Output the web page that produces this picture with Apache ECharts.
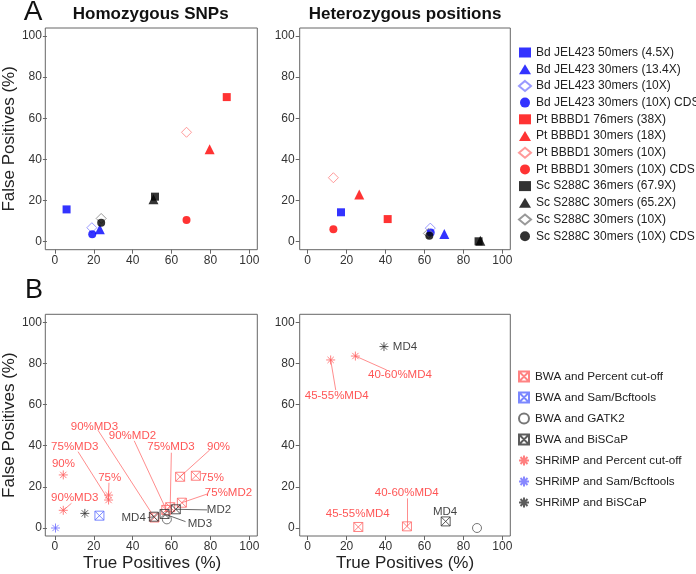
<!DOCTYPE html>
<html>
<head>
<meta charset="utf-8">
<script src="https://cdn.jsdelivr.net/npm/echarts@6/dist/echarts.min.js"></script>
<style>
  html, body { margin: 0; padding: 0; background: #fff; }
  #main { width: 696px; height: 574px; }
</style>
</head>
<body>
<div id="main"></div>
<script>
// ---- panel A data (true positives / false positives, %) ----
const aNames = [
  'Bd JEL423 50mers (4.5X)', 'Bd JEL423 30mers (13.4X)', 'Bd JEL423 30mers (10X)', 'Bd JEL423 30mers (10X) CDS',
  'Pt BBBD1 76mers (38X)', 'Pt BBBD1 30mers (18X)', 'Pt BBBD1 30mers (10X)', 'Pt BBBD1 30mers (10X) CDS',
  'Sc S288C 36mers (67.9X)', 'Sc S288C 30mers (65.2X)', 'Sc S288C 30mers (10X)', 'Sc S288C 30mers (10X) CDS'
];
const homTP = [6.0, 23.1, 19.0, 19.2, 88.4, 79.6, 67.7, 67.7, 51.5, 50.7, 23.8, 23.8];
const homFP = [15.7, 6.0, 6.8, 3.6, 70.3, 44.9, 53.2, 10.5, 21.9, 20.6, 11.3, 9.2];
const hetTP = [17.1, 70.2, 63.0, 63.2, 41.1, 26.5, 13.2, 13.2, 87.8, 88.7, 62.0, 62.5];
const hetFP = [14.3, 3.7, 6.6, 4.5, 11.0, 23.0, 31.1, 6.0, 0.2, 0.5, 4.0, 2.9];

// ---- panel B data ----
const bNames = [
  'BWA and Percent cut-off', 'BWA and Sam/Bcftools', 'BWA and GATK2', 'BWA and BiSCaP',
  'SHRiMP and Percent cut-off', 'SHRiMP and Sam/Bcftools', 'SHRiMP and BiSCaP'
];
// left panel
const bwaPctL_lab = ['90%', '75%', '75%MD2', '75%MD3', '90%MD2', '90%MD3'];
const bwaPctL_tp = [64.4, 72.5, 65.3, 59.3, 57.3, 51.2];
const bwaPctL_fp = [24.9, 25.4, 12.3, 10.1, 8.8, 5.1];
const bwaSamL_tp = [22.9];
const bwaSamL_fp = [6.0];
const gatkL_tp = [57.6];
const gatkL_fp = [4.2];
const bisL_lab = ['MD4', 'MD3', 'MD2'];
const bisL_tp = [50.9, 56.4, 62.2];
const bisL_fp = [5.5, 6.8, 9.1];
const shrPctL_lab = ['90%', '75%', '75%MD3', '90%MD3'];
const shrPctL_tp = [4.3, 27.6, 27.6, 4.3];
const shrPctL_fp = [25.8, 16.0, 13.6, 8.6];
const shrSamL_tp = [0.3];
const shrSamL_fp = [0.0];
const shrBisL_tp = [15.4];
const shrBisL_fp = [7.1];
// right panel
const bwaPctR_lab = ['45-55%MD4', '40-60%MD4'];
const bwaPctR_tp = [26.0, 51.0];
const bwaPctR_fp = [0.5, 0.8];
const gatkR_tp = [87.0];
const gatkR_fp = [0.0];
const bisR_lab = ['MD4'];
const bisR_tp = [70.9];
const bisR_fp = [3.2];
const shrPctR_lab = ['40-60%MD4', '45-55%MD4'];
const shrPctR_tp = [24.5, 11.8];
const shrPctR_fp = [83.6, 81.7];
const shrBisR_lab = ['MD4'];
const shrBisR_tp = [39.2];
const shrBisR_fp = [88.2];

// annotation anchors (axis units) and leader line ends (null = no line)
const bwaPctL_lx = [84.2, 81.0, 89.3, 59.7, 39.9, 20.3];
const bwaPctL_ly = [39.5, 24.6, 17.2, 39.5, 44.7, 49.2];
const bwaPctL_ex = [79.6, null, 78.3, 59.9, 40.8, 22.1];
const bwaPctL_ey = [37.9, null, 16.5, 36.6, 42.4, 47.6];
const bisL_lx = [40.5, 74.6, 84.4];
const bisL_ly = [5.0, 1.8, 8.8];
const bisL_ex = [47.7, 67.2, 78.3];
const bisL_ey = [5.0, 3.1, 8.8];
const shrPctL_lx = [4.4, 28.2, 10.2, 10.2];
const shrPctL_ly = [31.4, 24.5, 39.5, 14.9];
const shrPctL_ex = [null, 27.8, 11.9, 8.5];
const shrPctL_ey = [null, 22.0, 37.1, 12.0];
const bwaPctR_lx = [25.7, 50.9];
const bwaPctR_ly = [6.8, 16.9];
const bwaPctR_ex = [null, 51.0];
const bwaPctR_ey = [null, 14.4];
const bisR_lx = [70.6];
const bisR_ly = [7.9];
const shrPctR_lx = [47.4, 14.9];
const shrPctR_ly = [74.4, 64.3];
const shrPctR_ex = [40.6, 14.4];
const shrPctR_ey = [76.8, 67.1];
const shrBisR_lx = [50.0];
const shrBisR_ly = [88.2];

const FONT = '"Liberation Sans", Arial, sans-serif';
const RED_TXT = '#ff2a2a';
const RED_LINE = '#ff7070';

const boxX = 'path://M0,0L10,0L10,10L0,10Z M0,0L10,10 M10,0L0,10';
const star = 'path://M5,0L5,10 M0,5L10,5 M1.5,1.5L8.5,8.5 M8.5,1.5L1.5,8.5';

const aShapes = ['rect', 'triangle', 'diamond', 'circle'];
const aSizes = [8, 10, 10, 8];
const aColors = ['#0000ff', '#0000ff', '#8080ff', '#0000ff',
                 '#ff0000', '#ff0000', '#ff8080', '#ff0000',
                 '#000000', '#000000', '#808080', '#000000'];

const bShapes = [boxX, boxX, 'circle', boxX, star, star, star];
const bColors = ['#ff6464', '#5a6aff', '#555555', '#333333', '#ff6060', '#6a6aff', '#333333'];

const grids = [
  {left: 53.3, top: 36, width: 196, height: 205.7},
  {left: 307.7, top: 36, width: 194.6, height: 205.7},
  {left: 53.3, top: 322.3, width: 196, height: 205.7},
  {left: 307.7, top: 322.3, width: 194.6, height: 205.7}
];

const chart = echarts.init(document.getElementById('main'), null, {renderer: 'canvas'});

function axisX(i, name) {
  return {
    gridIndex: i, type: 'value', min: 0, max: 100, interval: 20, offset: 8,
    name: name || '', nameLocation: 'middle', nameGap: 19,
    nameTextStyle: {fontSize: 17, color: '#222', fontFamily: FONT},
    axisLine: {show: false, onZero: false},
    axisTick: {show: true, length: 4, lineStyle: {color: '#666'}},
    axisLabel: {fontSize: 12, color: '#333', margin: 5, fontFamily: FONT},
    splitLine: {show: false}
  };
}
function axisY(i, name) {
  return {
    gridIndex: i, type: 'value', min: 0, max: 100, interval: 20, offset: 8,
    name: name || '', nameLocation: 'middle', nameGap: 22, nameRotate: 90,
    nameTextStyle: {fontSize: 17, color: '#222', fontFamily: FONT},
    axisLine: {show: false, onZero: false},
    axisTick: {show: true, length: 4, lineStyle: {color: '#666'}},
    axisLabel: {fontSize: 12, color: '#333', margin: 5, fontFamily: FONT},
    splitLine: {show: false}
  };
}

// squares, triangles and circles are filled in panel A, diamonds are open
function styleFor(shape, color) {
  if (shape === 'diamond') return {color: 'transparent', borderColor: color, borderWidth: 1};
  return {color: color};
}

const series = [];

// panel A
function addA(gi, tp, fp) {
  aNames.forEach((n, i) => {
    const shape = aShapes[i % 4];
    series.push({
      name: n, type: 'scatter', xAxisIndex: gi, yAxisIndex: gi, clip: false,
      symbol: shape, symbolSize: aSizes[i % 4],
      itemStyle: styleFor(shape, aColors[i]),
      data: [[tp[i], fp[i]]]
    });
  });
}
addA(0, homTP, homFP);
addA(1, hetTP, hetFP);

// panel B helpers
function leaders(gi, tp, fp, ex, ey, color) {
  const d = [];
  tp.forEach((x, i) => {
    if (ex[i] != null) d.push({coords: [[x, fp[i]], [ex[i], ey[i]]]});
  });
  if (!d.length) return;
  series.push({
    type: 'lines', coordinateSystem: 'cartesian2d', xAxisIndex: gi, yAxisIndex: gi,
    polyline: false, silent: true, z: 1,
    lineStyle: {color: color, width: 0.8, opacity: 1},
    data: d
  });
}
function labels(gi, lab, lx, ly, color) {
  series.push({
    type: 'scatter', xAxisIndex: gi, yAxisIndex: gi, clip: false, silent: true, z: 5,
    symbol: 'circle', symbolSize: 1, itemStyle: {color: 'transparent'},
    label: {show: true, position: 'inside', formatter: '{b}', color: color, fontSize: 11.5, fontFamily: FONT},
    data: lab.map((t, i) => ({name: t, value: [lx[i], ly[i]]}))
  });
}
function addB(gi, k, tp, fp) {
  series.push({
    name: bNames[k], type: 'scatter', xAxisIndex: gi, yAxisIndex: gi, clip: false, z: 3,
    symbol: bShapes[k], symbolSize: 9,
    itemStyle: {color: 'transparent', borderColor: bColors[k], borderWidth: 1},
    data: tp.map((x, i) => [x, fp[i]])
  });
}

// B left
leaders(2, bwaPctL_tp, bwaPctL_fp, bwaPctL_ex, bwaPctL_ey, RED_LINE);
leaders(2, bisL_tp, bisL_fp, bisL_ex, bisL_ey, '#444');
leaders(2, shrPctL_tp, shrPctL_fp, shrPctL_ex, shrPctL_ey, RED_LINE);
addB(2, 0, bwaPctL_tp, bwaPctL_fp);
addB(2, 1, bwaSamL_tp, bwaSamL_fp);
addB(2, 2, gatkL_tp, gatkL_fp);
addB(2, 3, bisL_tp, bisL_fp);
addB(2, 4, shrPctL_tp, shrPctL_fp);
addB(2, 5, shrSamL_tp, shrSamL_fp);
addB(2, 6, shrBisL_tp, shrBisL_fp);
labels(2, bwaPctL_lab, bwaPctL_lx, bwaPctL_ly, RED_TXT);
labels(2, bisL_lab, bisL_lx, bisL_ly, '#111');
labels(2, shrPctL_lab, shrPctL_lx, shrPctL_ly, RED_TXT);

// B right
leaders(3, bwaPctR_tp, bwaPctR_fp, bwaPctR_ex, bwaPctR_ey, RED_LINE);
leaders(3, shrPctR_tp, shrPctR_fp, shrPctR_ex, shrPctR_ey, RED_LINE);
addB(3, 0, bwaPctR_tp, bwaPctR_fp);
addB(3, 2, gatkR_tp, gatkR_fp);
addB(3, 3, bisR_tp, bisR_fp);
addB(3, 4, shrPctR_tp, shrPctR_fp);
addB(3, 6, shrBisR_tp, shrBisR_fp);
labels(3, bwaPctR_lab, bwaPctR_lx, bwaPctR_ly, RED_TXT);
labels(3, bisR_lab, bisR_lx, bisR_ly, '#111');
labels(3, shrPctR_lab, shrPctR_lx, shrPctR_ly, RED_TXT);
labels(3, shrBisR_lab, shrBisR_lx, shrBisR_ly, '#111');

// frames around each plot (R draws the box 4% beyond the data range)
const frames = grids.map(g => ({
  type: 'rect', silent: true,
  shape: {x: g.left - 8, y: g.top - 8, width: g.width + 16, height: g.height + 16},
  style: {fill: 'none', stroke: '#666', lineWidth: 1}
}));
function txt(text, x, y, size, weight) {
  return {
    type: 'text', x: x, y: y, silent: true,
    style: {text: text, font: weight + ' ' + size + 'px ' + FONT, fill: '#111',
      textAlign: 'center', align: 'center', textVerticalAlign: 'middle', verticalAlign: 'middle'}
  };
}

chart.setOption({
  animation: false,
  backgroundColor: '#fff',
  textStyle: {fontFamily: FONT},
  grid: grids,
  xAxis: [axisX(0), axisX(1), axisX(2, 'True Positives (%)'), axisX(3, 'True Positives (%)')],
  yAxis: [axisY(0, 'False Positives (%)'), axisY(1), axisY(2, 'False Positives (%)'), axisY(3)],
  legend: [
    {
      data: aNames, orient: 'vertical', left: 518, top: 46.5, padding: 0,
      itemWidth: 12, itemHeight: 10, itemGap: 4.7, selectedMode: false,
      textStyle: {fontSize: 12, color: '#222', lineHeight: 12, fontFamily: FONT}
    },
    {
      data: bNames, orient: 'vertical', left: 518, top: 370.5, padding: 0,
      itemWidth: 12, itemHeight: 10, itemGap: 9, selectedMode: false,
      textStyle: {fontSize: 11.7, color: '#222', lineHeight: 12, fontFamily: FONT}
    }
  ],
  graphic: frames.concat([
    txt('A', 33, 12, 28, 'normal'),
    txt('B', 34, 291, 27, 'normal'),
    txt('Homozygous SNPs', 150.7, 14, 17, 'bold'),
    txt('Heterozygous positions', 405, 14, 17, 'bold')
  ]),
  series: series
});
</script>
</body>
</html>
